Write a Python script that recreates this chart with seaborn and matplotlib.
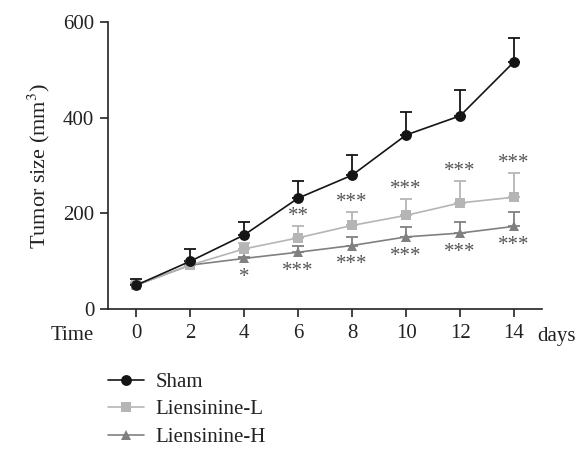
import matplotlib
matplotlib.use("Agg")
import matplotlib.pyplot as plt
import seaborn as sns
import pandas as pd
import numpy as np
from matplotlib.lines import Line2D

days = [0, 2, 4, 6, 8, 10, 12, 14]
sham = [50, 100, 155, 232, 280, 364, 404, 517]
sham_err = [12, 25, 27, 36, 42, 47, 55, 49]
lien_l = [50, 92, 126, 149, 175, 196, 222, 234]
lien_l_err = [6, 4, 12, 25, 29, 35, 46, 51]
lien_h = [50, 92, 106, 119, 133, 151, 159, 173]
lien_h_err = [5, 4, 4, 13, 17, 21, 23, 31]
groups = ["Sham", "Liensinine-L", "Liensinine-H"]
stars_l = ["", "", "", "**", "***", "***", "***", "***"]
stars_h = ["", "", "*", "***", "***", "***", "***", "***"]
yticks = [0, 200, 400, 600]

sns.set_theme(style="ticks")
plt.rcParams["font.family"] = ["Liberation Serif", "DejaVu Serif"]
plt.rcParams["mathtext.fontset"] = "stix"

colors = {"Sham": "#151515", "Liensinine-L": "#b5b5b5", "Liensinine-H": "#808080"}
markers = {"Sham": "o", "Liensinine-L": "s", "Liensinine-H": "^"}
msize = {"Sham": 7.8, "Liensinine-L": 7, "Liensinine-H": 7.5}

df = pd.DataFrame({
    "day": days * 3,
    "size": sham + lien_l + lien_h,
    "err": sham_err + lien_l_err + lien_h_err,
    "group": [groups[0]] * 8 + [groups[1]] * 8 + [groups[2]] * 8,
})

fig = plt.figure(figsize=(5.78, 4.5), dpi=100)
ax = fig.add_axes([0.187, 0.313, 0.751, 0.638])

for g in groups[::-1]:
    sub = df[df.group == g]
    ax.errorbar(sub["day"], sub["size"], yerr=[np.zeros(len(sub)), sub["err"]],
                fmt="none", ecolor=colors[g], elinewidth=1.3, capsize=4.5,
                capthick=1.3, zorder=2)
    sns.lineplot(data=sub, x="day", y="size", color=colors[g], marker=markers[g],
                 markersize=msize[g], markeredgewidth=0, linewidth=1.2, ax=ax,
                 zorder=3, legend=False, errorbar=None)

ax.set_xlim(-1.04, 15.04)
ax.set_ylim(0, 600)
ax.set_xticks(days)
ax.set_yticks(yticks)
ax.tick_params(axis="both", labelsize=15, length=6, width=1.2, colors="#222222",
               labelcolor="#222222")
ax.tick_params(axis="x", pad=5)
ax.tick_params(axis="y", pad=4)
for s in ["top", "right"]:
    ax.spines[s].set_visible(False)
for s in ["left", "bottom"]:
    ax.spines[s].set_linewidth(1.2)
    ax.spines[s].set_color("#222222")
ax.set_xlabel("")
ax.set_ylabel("Tumor size (mm$^3$)", fontsize=16, color="#222222", labelpad=8)

for d, v, e, s in zip(days, lien_l, lien_l_err, stars_l):
    if s:
        ax.annotate(s, (d, v + e), xytext=(0, 0), textcoords="offset points",
                    ha="center", va="bottom", fontsize=15, color="#555555")
for d, v, s in zip(days, lien_h, stars_h):
    if s:
        ax.annotate(s, (d, v), xytext=(0, -7), textcoords="offset points",
                    ha="center", va="top", fontsize=15, color="#555555")

fig.text(72 / 578, 1 - 336 / 450, "Time", fontsize=15, ha="center", va="center",
         color="#222222")
fig.text(557 / 578, 1 - 337 / 450, "days", fontsize=15, ha="center", va="center",
         color="#222222")

handles = [Line2D([], [], color=colors[g], marker=markers[g], markersize=msize[g],
                  markeredgewidth=0, linewidth=1.2) for g in groups]
fig.legend(handles, groups, loc="upper left", bbox_to_anchor=(100 / 578, 1 - 364 / 450),
           frameon=False, fontsize=15, handlelength=1.7, handletextpad=0.55,
           labelspacing=0.38, labelcolor="#222222", borderaxespad=0)

fig.savefig("out.png", dpi=100)
